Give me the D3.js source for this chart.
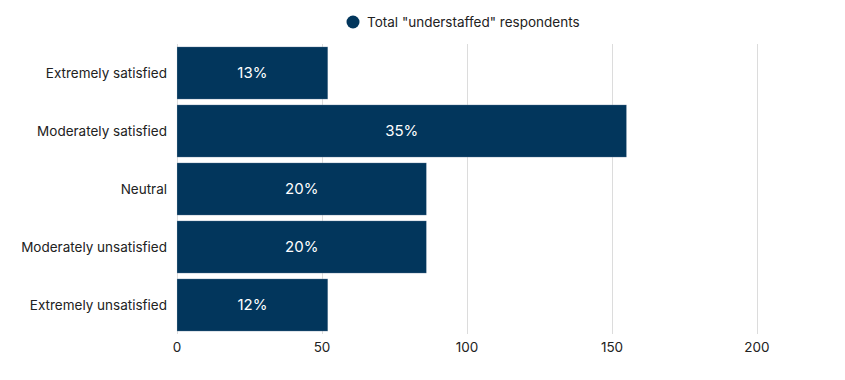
<!DOCTYPE html>
<html>
<head>
<meta charset="utf-8">
<script src="https://cdn.jsdelivr.net/npm/d3@7"></script>
<style>
  html, body { margin: 0; padding: 0; background: #fff; }
  svg { display: block; font-family: Inter, "Noto Sans", sans-serif; }
</style>
</head>
<body>
<div id="chart"></div>
<script>
// Data
const categories = ["Extremely satisfied", "Moderately satisfied", "Neutral", "Moderately unsatisfied", "Extremely unsatisfied"];
const values = [52, 155, 86, 86, 52];
const barLabels = ["13%", "35%", "20%", "20%", "12%"];
const ticks = [0, 50, 100, 150, 200];
const seriesName = 'Total "understaffed" respondents';

const barColor = '#02365c';
const gridColor = '#dcdcdc';
const textColor = '#222';

const width = 845, height = 380;
const margin = { top: 44, right: 20, bottom: 46, left: 177 };

const svg = d3.select("#chart").append("svg")
  .attr("width", width)
  .attr("height", height);

const x = d3.scaleLinear()
  .domain([0, 200])
  .range([margin.left, margin.left + 580]);

const y = d3.scaleBand()
  .domain(categories)
  .range([margin.top, height - margin.bottom])
  .paddingInner(0.1)
  .paddingOuter(0.05);

// grid
svg.append("g")
  .selectAll("line")
  .data(ticks)
  .join("line")
  .attr("x1", d => x(d) + 0.5)
  .attr("x2", d => x(d) + 0.5)
  .attr("y1", margin.top)
  .attr("y2", height - margin.bottom)
  .attr("stroke", gridColor)
  .attr("stroke-width", 1);

// bars
svg.append("g")
  .selectAll("rect")
  .data(values)
  .join("rect")
  .attr("x", x(0))
  .attr("y", (d, i) => y(categories[i]))
  .attr("width", d => x(d) - x(0))
  .attr("height", y.bandwidth())
  .attr("fill", barColor)
  .attr("stroke", "#c8d2dc")
  .attr("stroke-opacity", 0.5)
  .attr("stroke-width", 0.5);

// bar labels
svg.append("g")
  .selectAll("text")
  .data(values)
  .join("text")
  .attr("x", d => (x(0) + x(d)) / 2)
  .attr("y", (d, i) => y(categories[i]) + y.bandwidth() / 2)
  .attr("dy", "0.35em")
  .attr("text-anchor", "middle")
  .attr("fill", "#fff")
  .attr("font-size", 15)
  .text((d, i) => barLabels[i]);

// category labels
svg.append("g")
  .selectAll("text")
  .data(categories)
  .join("text")
  .attr("x", margin.left - 10)
  .attr("y", d => y(d) + y.bandwidth() / 2)
  .attr("dy", "0.35em")
  .attr("text-anchor", "end")
  .attr("fill", textColor)
  .attr("font-size", 13.5)
  .text(d => d);

// x tick labels
svg.append("g")
  .selectAll("text")
  .data(ticks)
  .join("text")
  .attr("x", d => x(d))
  .attr("y", height - margin.bottom + 8)
  .attr("dy", "0.71em")
  .attr("text-anchor", "middle")
  .attr("fill", textColor)
  .attr("font-size", 13.5)
  .text(d => d);

// legend
const legend = svg.append("g").attr("transform", "translate(353,22)");
legend.append("circle")
  .attr("r", 6.5)
  .attr("fill", barColor);
legend.append("text")
  .attr("x", 14)
  .attr("dy", "0.35em")
  .attr("fill", textColor)
  .attr("font-size", 13.5)
  .text(seriesName);
</script>
</body>
</html>
